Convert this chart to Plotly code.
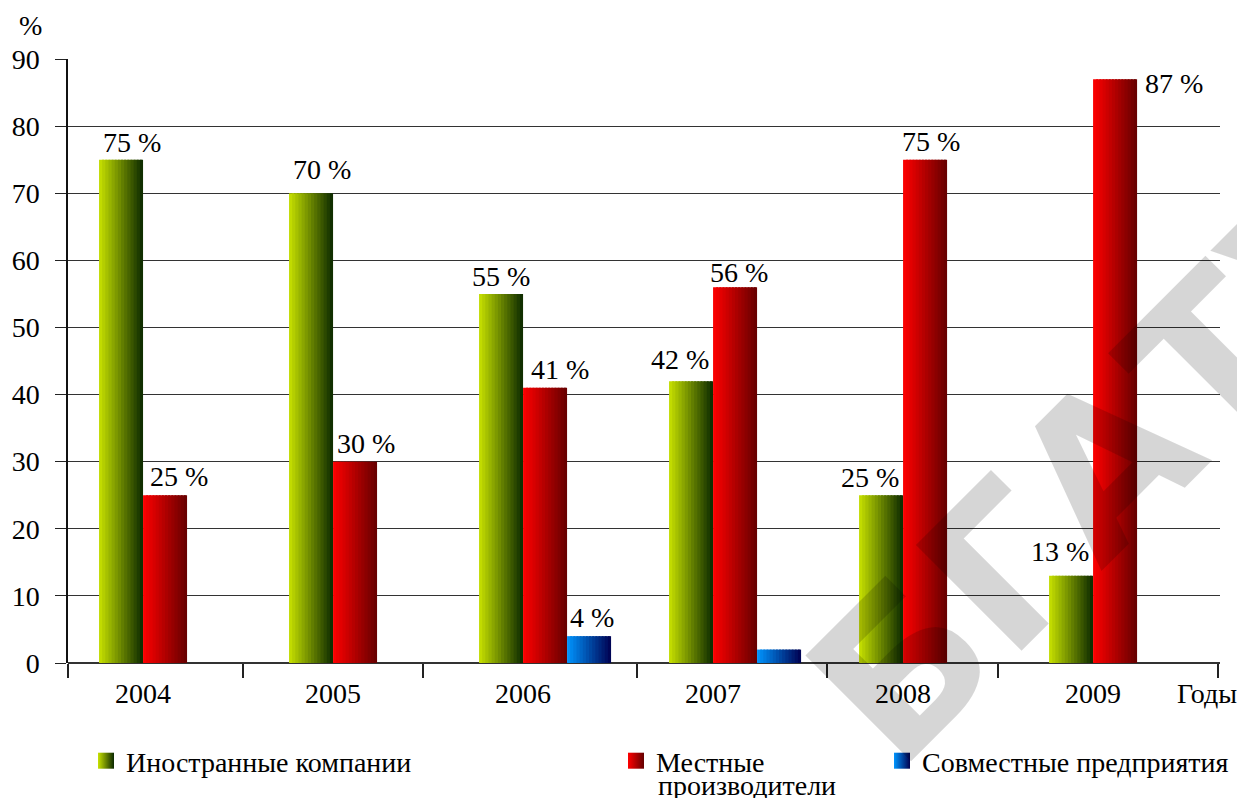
import plotly.graph_objects as go

# ---- data ----
years = ["2004", "2005", "2006", "2007", "2008", "2009"]
foreign = [75, 70, 55, 42, 25, 13]          # Иностранные компании
local = [25, 30, 41, 56, 75, 87]            # Местные производители
joint = [None, None, 4, 2, None, None]      # Совместные предприятия
foreign_labels = ["75 %", "70 %", "55 %", "42 %", "25 %", "13 %"]
local_labels = ["25 %", "30 %", "41 %", "56 %", "75 %", "87 %"]
joint_labels = ["", "", "4 %", "", "", ""]
y_ticks = [0, 10, 20, 30, 40, 50, 60, 70, 80, 90]

# ---- styling ----
FONT = "Liberation Serif"
FS = 28
BW = 0.2316          # bar width in category units
NSLICE = 14
x_idx = list(range(len(years)))
PW, PH = 1152, 604   # plot area size in px

def px_to_paper(sx, sy):
    # screen px (plot area spans x 68..1220, y 59..663) -> paper coords
    return (sx - 68) / PW, (663 - sy) / PH

def lerp(c1, c2, t):
    return "rgb(%d,%d,%d)" % tuple(round(a + (b - a) * t) for a, b in zip(c1, c2))

def rgb(c):
    return "rgb(%d,%d,%d)" % c

series = [
    ("Иностранные компании", foreign, -BW, (200, 226, 0), (10, 40, 0), "legend"),
    ("Местные", local, 0.0, (255, 0, 0), (100, 0, 0), "legend2"),
    ("Совместные предприятия", joint, BW, (0, 150, 255), (0, 0, 80), "legend3"),
]

fig = go.Figure()
for name, vals, off, c1, c2, lg in series:
    for k in range(NSLICE):
        t = (k + 0.5) / NSLICE
        w = BW / NSLICE * (1.6 if k < NSLICE - 1 else 1.0)
        fig.add_trace(go.Bar(
            x=x_idx, y=vals,
            offset=off + k * BW / NSLICE,
            width=w,
            marker=dict(color=lerp(c1, c2, t), line=dict(width=0)),
            name=name,
            showlegend=False,
            hoverinfo="skip",
        ))
    # legend-only entry with a horizontal gradient swatch
    fig.add_trace(go.Scatter(
        x=[None], y=[None], mode="markers", name=name, legend=lg,
        marker=dict(symbol="square", size=20, color=rgb(c1),
                    gradient=dict(type="horizontal", color=rgb(c2))),
        hoverinfo="skip",
    ))

# value labels
lab_dx = {
    "f": [11, 11, 0, -11, -11, -11],
    "l": [14, 11, 15, 4, 6, 59],
    "j": [0, 0, 3, 0, 0, 0],
}
lab_dy = {
    "f": [17, 24, 17, 22, 18, 24],
    "l": [19, 18, 18, 15, 18, -4],
    "j": [0, 0, 19, 0, 0, 0],
}
for key, vals, labels, off in [("f", foreign, foreign_labels, -BW),
                               ("l", local, local_labels, 0.0),
                               ("j", joint, joint_labels, BW)]:
    for i, (v, t) in enumerate(zip(vals, labels)):
        if v is None or not t:
            continue
        fig.add_annotation(
            x=i + off + BW / 2, y=v, xref="x", yref="y", text=t,
            showarrow=False, xanchor="center", yanchor="middle",
            xshift=lab_dx[key][i], yshift=lab_dy[key][i],
            font=dict(family=FONT, size=FS, color="black"),
        )

# watermark
wx, wy = px_to_paper(1110, 462)
fig.add_annotation(
    x=wx, y=wy, xref="paper", yref="paper", text="<b>БГАТУ</b>",
    showarrow=False, textangle=-45, xanchor="center", yanchor="middle",
    font=dict(family="DejaVu Sans", size=205, color="rgba(0,0,0,0.16)"),
)

# axis titles
ax, ay = px_to_paper(30, 25)
fig.add_annotation(x=ax, y=ay, xref="paper", yref="paper", text="%",
                   xanchor="center", yanchor="middle",
                   showarrow=False, font=dict(family=FONT, size=FS, color="black"))
gx, gy = px_to_paper(1207, 693)
fig.add_annotation(x=gx, y=gy, xref="paper", yref="paper", text="Годы",
                   xanchor="center", yanchor="middle",
                   showarrow=False, font=dict(family=FONT, size=FS, color="black"))
# second line of the "Местные производители" legend entry
lx, ly = px_to_paper(656, 785)
fig.add_annotation(x=lx, y=ly, xref="paper", yref="paper", text="производители",
                   xanchor="left", yanchor="middle",
                   showarrow=False, font=dict(family=FONT, size=FS, color="black"))

boundaries = [-0.395, 0.526, 1.474, 2.6, 3.6, 4.5, 5.66]

leg_y = px_to_paper(0, 761)[1]
fig.update_layout(
    width=1237, height=790,
    margin=dict(l=60, r=25, t=51, b=135, autoexpand=False),
    paper_bgcolor="white", plot_bgcolor="white",
    barmode="overlay",
    font=dict(family=FONT, size=FS, color="black"),
    xaxis=dict(
        range=[-0.395, 5.668],
        tickmode="array", tickvals=x_idx, ticktext=years,
        ticks="", showgrid=False, zeroline=False,
        showline=False,
        ticklabelstandoff=11,
        tickfont=dict(family=FONT, size=FS, color="black"),
        minor=dict(tickmode="array", tickvals=boundaries, ticks="outside",
                   ticklen=14, tickwidth=1.5, tickcolor="#222", showgrid=False),
    ),
    yaxis=dict(
        range=[0, 90], tickmode="array", tickvals=y_ticks,
        ticks="outside", ticklen=11, tickwidth=1.3, tickcolor="#222",
        showgrid=True, gridcolor="#333", gridwidth=1.3,
        showline=True, linecolor="#111", linewidth=1.5,
        zeroline=True, zerolinecolor="#333", zerolinewidth=1.5,
        ticklabelstandoff=10,
        tickfont=dict(family=FONT, size=FS, color="black"),
    ),
    legend=dict(orientation="h", x=px_to_paper(86, 0)[0], y=leg_y, xanchor="left", yanchor="middle",
                itemsizing="trace",
                font=dict(family=FONT, size=FS, color="black"), bgcolor="rgba(0,0,0,0)"),
    legend2=dict(orientation="h", x=px_to_paper(616, 0)[0], y=leg_y, xanchor="left", yanchor="middle",
                 itemsizing="trace",
                 font=dict(family=FONT, size=FS, color="black"), bgcolor="rgba(0,0,0,0)"),
    legend3=dict(orientation="h", x=px_to_paper(882, 0)[0], y=leg_y, xanchor="left", yanchor="middle",
                 itemsizing="trace",
                 font=dict(family=FONT, size=FS, color="black"), bgcolor="rgba(0,0,0,0)"),
    showlegend=True,
)

fig.write_html("out.html")
